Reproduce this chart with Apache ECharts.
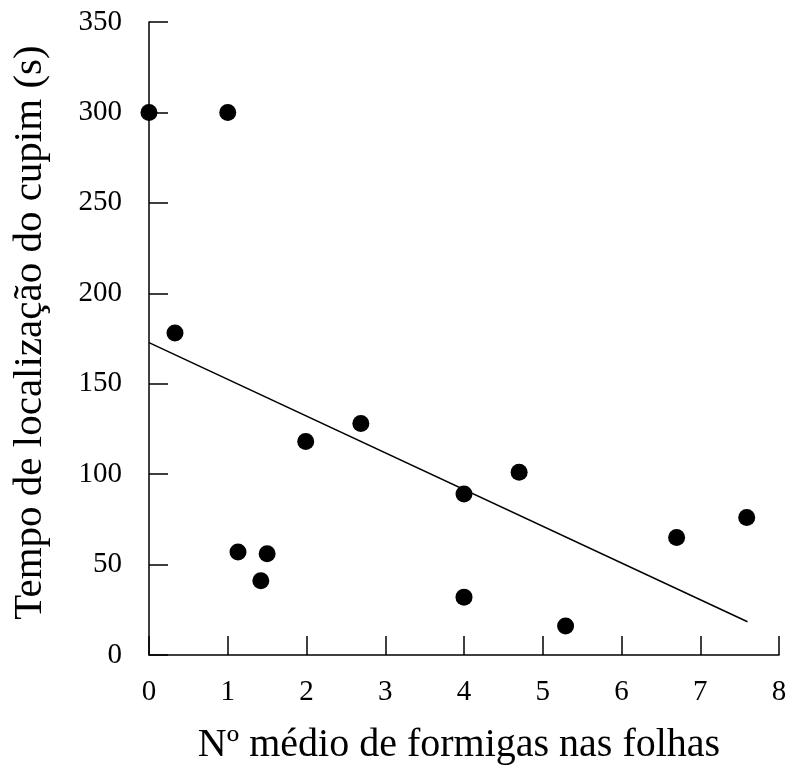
<!DOCTYPE html>
<html>
<head>
<meta charset="utf-8">
<script src="https://cdn.jsdelivr.net/npm/echarts@6/dist/echarts.min.js"></script>
<style>html,body{margin:0;padding:0;background:#fff;}#c{width:788px;height:765px;}</style>
</head>
<body>
<div id="c"></div>
<script>
const xValues = [0, 1, 0.33, 1.13, 1.5, 1.42, 1.99, 2.69, 4.0, 4.0, 4.7, 5.29, 6.7, 7.59];
const yValues = [300, 300, 178, 57, 56, 41, 118, 128, 89, 32, 101, 16, 65, 76];
const trendX = [0, 7.6];
const trendY = [172.7, 18.4];
const xTicks = [0, 1, 2, 3, 4, 5, 6, 7, 8];
const yTicks = [0, 50, 100, 150, 200, 250, 300, 350];
const xTitle = 'Nº médio de formigas nas folhas';
const yTitle = 'Tempo de localização do cupim (s)';

const font = 'Liberation Serif';
const chart = echarts.init(document.getElementById('c'));
chart.setOption({
  animation: false,
  backgroundColor: '#fff',
  grid: {left: 149, right: 9, top: 22, bottom: 110, containLabel: false, outerBoundsMode: 'none'},
  xAxis: {
    type: 'value', min: xTicks[0], max: xTicks[xTicks.length-1], interval: 1,
    name: xTitle, nameLocation: 'middle', nameGap: 70,
    nameTextStyle: {fontFamily: font, fontSize: 40, color: '#000', padding: [0, 10, 0, 0]},
    axisLine: {onZero: false, lineStyle: {color: '#000', width: 1.5}},
    axisTick: {inside: true, length: 19, lineStyle: {color: '#000', width: 1.5}},
    axisLabel: {fontFamily: font, fontSize: 29, color: '#000', margin: 23},
    splitLine: {show: false}
  },
  yAxis: {
    type: 'value', min: yTicks[0], max: yTicks[yTicks.length-1], interval: 50,
    name: yTitle, nameLocation: 'middle', nameGap: 98,
    nameTextStyle: {fontFamily: font, fontSize: 41, color: '#000', padding: [0, 0, 0, 12]},
    axisLine: {show: true, onZero: false, lineStyle: {color: '#000', width: 1.5}},
    axisTick: {show: true, inside: true, length: 19, lineStyle: {color: '#000', width: 1.5}},
    axisLabel: {fontFamily: font, fontSize: 29, color: '#000', margin: 27},
    splitLine: {show: false}
  },
  series: [
    {
      type: 'line',
      data: trendX.map((x, i) => [x, trendY[i]]),
      symbol: 'none',
      lineStyle: {color: '#000', width: 1.5},
      z: 2
    },
    {
      type: 'scatter',
      data: xValues.map((x, i) => [x, yValues[i]]),
      symbol: 'circle',
      symbolSize: 17,
      itemStyle: {color: '#000', opacity: 1},
      z: 3
    }
  ]
});
</script>
</body>
</html>
